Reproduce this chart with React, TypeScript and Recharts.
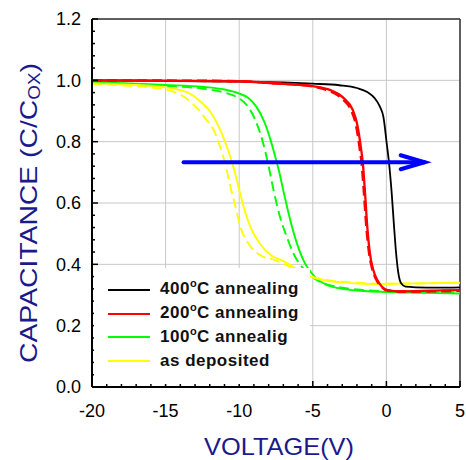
import { LineChart, Line, XAxis, YAxis, CartesianGrid, ReferenceLine, Legend } from 'recharts'

const FONT = '"Liberation Sans", Arial, Helvetica, sans-serif'
const NAVY = '#1a1a8c'

// axis ticks
const xMajor = [-20, -15, -10, -5, 0, 5]
const yMajor = [0, 0.2, 0.4, 0.6, 0.8, 1.0, 1.2]
const xTicks = Array.from({ length: 26 }, (_, i) => -20 + i)
const yTicks = Array.from({ length: 31 }, (_, i) => Math.round(i * 4) / 100)

// 400C annealing
const v400 = [-20, -15, -10, -7, -5, -3.2, -2, -1.3, -0.8, -0.45, -0.2, 0.02, 0.18, 0.36, 0.52, 0.66, 0.8, 1.0, 1.3, 2, 3.5, 5]
const c400 = [1.0, 0.998, 0.996, 0.993, 0.989, 0.984, 0.975, 0.962, 0.942, 0.915, 0.88, 0.795, 0.73, 0.632, 0.523, 0.436, 0.375, 0.338, 0.327, 0.325, 0.324, 0.325]

// 200C annealing (solid + dashed)
const v200 = [-20, -15, -10, -7.5, -5, -3.8, -2.9, -2.3, -2.0, -1.85, -1.73, -1.6, -1.45, -1.3, -1.12, -0.9, -0.6, -0.3, 0.1, 1, 3, 5]
const c200 = [1.0, 0.999, 0.997, 0.99, 0.981, 0.968, 0.942, 0.905, 0.86, 0.82, 0.78, 0.73, 0.632, 0.523, 0.436, 0.383, 0.347, 0.327, 0.315, 0.312, 0.314, 0.316]
const v200d = [-20, -15, -10, -7.5, -5, -3.9, -3.0, -2.4, -2.08, -1.93, -1.81, -1.68, -1.52, -1.36, -1.17, -0.95, -0.65, -0.35, 0.05, 1, 3, 5]
const c200d = [1.0, 0.999, 0.997, 0.99, 0.98, 0.966, 0.94, 0.903, 0.858, 0.818, 0.778, 0.73, 0.632, 0.523, 0.436, 0.383, 0.347, 0.327, 0.315, 0.311, 0.312, 0.314]

// 100C annealing (solid + dashed)
const v100 = [-20, -17.5, -15, -12.5, -11, -10, -9.4, -8.85, -8.3, -7.9, -7.6, -7.3, -7.0, -6.55, -6.09, -5.53, -5.07, -4.6, -4.0, -3.0, -1.5, 0, 2.5, 5]
const c100 = [0.995, 0.99, 0.985, 0.979, 0.97, 0.957, 0.943, 0.915, 0.865, 0.81, 0.76, 0.705, 0.64, 0.548, 0.47, 0.403, 0.371, 0.348, 0.332, 0.32, 0.313, 0.31, 0.307, 0.305]
const v100d = [-20, -17.5, -15, -12.5, -11, -10.15, -9.5, -8.9, -8.4, -8.0, -7.68, -7.23, -6.77, -6.32, -5.75, -5.2, -4.5, -3.5, -2, 0, 2.5, 5]
const c100d = [0.993, 0.988, 0.982, 0.973, 0.96, 0.945, 0.92, 0.87, 0.8, 0.72, 0.645, 0.555, 0.49, 0.436, 0.392, 0.365, 0.342, 0.328, 0.318, 0.312, 0.309, 0.308]

// as deposited (solid + dashed)
const vAs = [-20, -17.5, -15, -14.2, -13.6, -13.0, -12.5, -12.0, -11.4, -10.85, -10.4, -10.05, -9.7, -9.25, -8.6, -7.8, -7.1, -6.5, -5.8, -5.07, -4.2, -3.0, -1, 1, 5]
const cAs = [0.99, 0.986, 0.977, 0.97, 0.962, 0.946, 0.925, 0.9, 0.85, 0.785, 0.718, 0.653, 0.588, 0.523, 0.468, 0.428, 0.413, 0.397, 0.375, 0.358, 0.348, 0.341, 0.336, 0.337, 0.34]
const vAsd = [-20, -17.5, -15, -14.3, -13.8, -13.2, -12.6, -12.3, -11.85, -11.3, -10.9, -10.6, -10.25, -9.92, -9.3, -8.5, -7.55, -6.8, -6.0, -5.07, -4, -2, 0, 5]
const cAsd = [0.988, 0.982, 0.97, 0.96, 0.948, 0.925, 0.895, 0.875, 0.849, 0.784, 0.718, 0.653, 0.588, 0.523, 0.463, 0.428, 0.414, 0.398, 0.378, 0.36, 0.348, 0.34, 0.337, 0.34]

// blue arrow annotation
const arrowV = [-13.78, 2.6]
const arrowC = 0.733

const toPoints = (v: number[], c: number[]) => v.map((x, i) => ({ v: x, c: c[i] }))

const series = [
  { id: 'g-d', data: toPoints(v100d, c100d), color: '#00ff00', dashed: true, width: 1.9 },
  { id: 'g', data: toPoints(v100, c100), color: '#00ff00', dashed: false, width: 1.9 },
  { id: 'y-d', data: toPoints(vAsd, cAsd), color: '#ffff00', dashed: true, width: 1.9 },
  { id: 'y', data: toPoints(vAs, cAs), color: '#ffff00', dashed: false, width: 1.9 },
  { id: 'k', data: toPoints(v400, c400), color: '#000000', dashed: false, width: 1.8 },
  { id: 'r-d', data: toPoints(v200d, c200d), color: '#ff0000', dashed: true, width: 2.6 },
  { id: 'r', data: toPoints(v200, c200), color: '#ff0000', dashed: false, width: 2.3 },
]

const legendItems = [
  { temp: '400', text: 'C annealing', color: '#000000' },
  { temp: '200', text: 'C annealing', color: '#ff0000' },
  { temp: '100', text: 'C annealig', color: '#00ff00' },
  { temp: '', text: 'as deposited', color: '#ffff00' },
]

function XTick({ x, y, payload }: any) {
  const v = payload.value
  const major = xMajor.includes(v)
  return (
    <g>
      <line x1={x} y1={y} x2={x} y2={y - (major ? 6 : 3)} stroke="#000" strokeWidth={1.5} />
      {major && (
        <text x={x} y={y + 30} textAnchor="middle" fontSize={18} fontFamily={FONT} fill="#000">
          {v}
        </text>
      )}
    </g>
  )
}

function YTick({ x, y, payload }: any) {
  const v = payload.value
  const major = yMajor.some((m) => Math.abs(m - v) < 1e-6)
  return (
    <g>
      <line x1={x} y1={y} x2={x + (major ? 6 : 3)} y2={y} stroke="#000" strokeWidth={1.5} />
      {major && (
        <text x={x - 11} y={y} dy="0.36em" textAnchor="end" fontSize={18} fontFamily={FONT} fill="#000">
          {v.toFixed(1)}
        </text>
      )}
    </g>
  )
}

function YTitle({ viewBox }: any) {
  const vb = viewBox || { x: 32, y: 19, width: 60, height: 368 }
  const x = vb.x + 5
  const cy = vb.y + vb.height / 2 + 10
  return (
    <text
      x={x}
      y={cy}
      transform={`rotate(-90 ${x} ${cy})`}
      textAnchor="middle"
      fontSize={24}
      fontFamily={FONT}
      fill={NAVY}
      textLength={300}
      lengthAdjust="spacingAndGlyphs"
    >
      CAPACITANCE (C/C<tspan fontSize={16} dy={3}>OX</tspan>
      <tspan dy={-3}>)</tspan>
    </text>
  )
}

function XTitle({ viewBox }: any) {
  const vb = viewBox || { x: 92, y: 387, width: 368, height: 73 }
  return (
    <text
      x={vb.x + vb.width / 2 + 3}
      y={vb.y + 68}
      textAnchor="middle"
      fontSize={24}
      fontFamily={FONT}
      fill={NAVY}
      textLength={150}
      lengthAdjust="spacingAndGlyphs"
    >
      VOLTAGE(V)
    </text>
  )
}

function ArrowShape(props: any) {
  const { x1, y1, x2, y2 } = props
  return (
    <g>
      <line x1={x1} y1={y1} x2={x2} y2={y2} stroke="#0000ff" strokeWidth={4} strokeLinecap="round" />
      <polyline
        points={`${x2 - 24},${y2 - 7} ${x2},${y2} ${x2 - 24},${y2 + 7}`}
        fill="none"
        stroke="#0000ff"
        strokeWidth={4}
        strokeLinecap="round"
      />
    </g>
  )
}

function LegendBox() {
  return (
    <div
      style={{
        background: '#fff',
        width: 216,
        height: 116,
        paddingTop: 10,
        boxSizing: 'border-box',
        fontFamily: FONT,
        fontWeight: 'bold',
        fontSize: 17,
        color: '#111',
        letterSpacing: 0.5,
      }}
    >
      {legendItems.map((it) => (
        <div key={it.text + it.temp} style={{ display: 'flex', alignItems: 'center', height: 23.8, lineHeight: '23.8px' }}>
          <div style={{ width: 42, height: 2, background: it.color, marginLeft: 14, marginRight: 10, flex: 'none' }} />
          <span>
            {it.temp}
            {it.temp && <span style={{ fontSize: 11, position: 'relative', top: -7 }}>o</span>}
            {it.text}
          </span>
        </div>
      ))}
    </div>
  )
}

export default function App() {
  return (
    <div style={{ position: 'absolute', left: 0, top: 0 }}>
      <LineChart width={466} height={460} margin={{ top: 19, right: 6, left: 32, bottom: 0 }}>
        <CartesianGrid stroke="#c8c8c8" strokeWidth={1} horizontalValues={yMajor} verticalValues={xMajor} />
        <XAxis
          type="number"
          dataKey="v"
          domain={[-20, 5]}
          ticks={xTicks}
          interval={0}
          tickSize={0}
          tickMargin={0}
          tickLine={false}
          tick={<XTick />}
          axisLine={{ stroke: '#000', strokeWidth: 2 }}
          height={73}
          allowDuplicatedCategory={false}
          label={<XTitle />}
        />
        <YAxis
          type="number"
          dataKey="c"
          domain={[0, 1.2]}
          ticks={yTicks}
          interval={0}
          tickSize={0}
          tickMargin={0}
          tickLine={false}
          tick={<YTick />}
          axisLine={{ stroke: '#000', strokeWidth: 2 }}
          width={60}
          label={<YTitle />}
        />
        <ReferenceLine y={1.2} stroke="#333" strokeWidth={1.5} />
        <ReferenceLine x={5} stroke="#333" strokeWidth={1.5} />
        {series.map((s) => (
          <Line
            key={s.id}
            data={s.data}
            dataKey="c"
            type="monotone"
            stroke={s.color}
            strokeWidth={s.width}
            strokeDasharray={s.dashed ? '10 5' : undefined}
            dot={false}
            activeDot={false}
            isAnimationActive={false}
          />
        ))}
        <ReferenceLine
          segment={[
            { x: arrowV[0], y: arrowC },
            { x: arrowV[1], y: arrowC },
          ]}
          shape={(p: any) => <ArrowShape {...p} />}
        />
        <Legend
          layout="vertical"
          align="center"
          verticalAlign="middle"
          width={216}
          height={116}
          wrapperStyle={{ left: 94, top: 268, width: 216, height: 116 }}
          content={() => <LegendBox />}
        />
      </LineChart>
    </div>
  )
}
